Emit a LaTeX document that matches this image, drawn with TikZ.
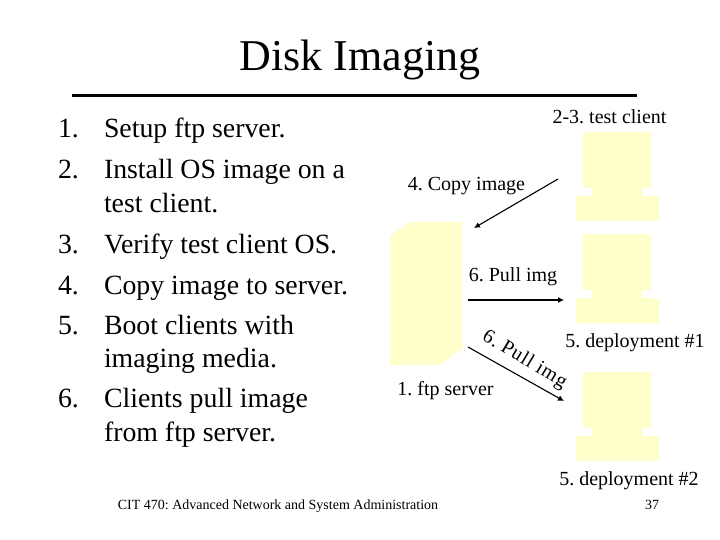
\documentclass[tikz,border=0pt]{standalone}
\usepackage{fontspec}
\setmainfont{Liberation Serif}
\usetikzlibrary{arrows.meta}
\definecolor{boxy}{RGB}{255,255,204}
\tikzset{
  every node/.style={inner sep=0pt,outer sep=0pt},
  lbl/.style={font=\fontsize{20}{24}\selectfont,anchor=base},
  body/.style={font=\fontsize{27.8}{32}\selectfont,anchor=base west},
  foot/.style={font=\fontsize{14}{16}\selectfont,anchor=base},
  conn/.style={-{Latex[length=6pt,width=6pt]},line width=1.1pt,black},
  machine/.style={fill=boxy},
  pics/client/.style={code={
    \fill[machine] (7,0)--(75,0)--(75,56)--(66,56)--(66,64)--(83,64)--(83,89)--(0,89)--(0,64)--(16,64)--(16,56)--(7,56)--cycle;
  }}
}
\frenchspacing
\begin{document}
\begin{tikzpicture}[x=1pt,y=-1pt]
\useasboundingbox (0,0) rectangle (720,540);
\fill[white] (0,0) rectangle (720,540);
% title
\node[font=\fontsize{44}{50}\selectfont,anchor=base] (title) at (360,71) {Disk Imaging};
\coordinate (ruleL) at (72,96);
\coordinate (ruleR) at (637,96);
\draw[line width=3pt] (ruleL) -- (ruleR);
% list
\node[body] (n1) at (58,138) {1.};
\node[body] (t1) at (104,138) {Setup ftp server.};
\node[body] (n2) at (58,179) {2.};
\node[body] (t2) at (104,179) {Install OS image on a};
\node[body] (t2b) at (104,213) {test client.};
\node[body] (n3) at (58,253) {3.};
\node[body] (t3) at (104,253) {Verify test client OS.};
\node[body] (n4) at (58,294) {4.};
\node[body] (t4) at (104,294) {Copy image to server.};
\node[body] (n5) at (58,334) {5.};
\node[body] (t5) at (104,334) {Boot clients with};
\node[body] (t5b) at (104,367) {imaging media.};
\node[body] (n6) at (58,407) {6.};
\node[body] (t6) at (104,407) {Clients pull image};
\node[body] (t6b) at (104,441) {from ftp server.};
% machines
\pic at (576,132) {client};
\pic at (576,234) {client};
\pic at (576,372) {client};
\fill[machine] (410,222)--(462,222)--(462,349)--(440,365)--(390,365)--(390,236)--cycle;
% connectors
\coordinate (c4a) at (558,179);
\coordinate (c4b) at (474,228);
\coordinate (c6a) at (468,300);
\coordinate (c6b) at (564,300);
\coordinate (c7a) at (468,347);
\coordinate (c7b) at (564,401);
\draw[conn] (c4a) -- (c4b);
\draw[conn] (c6a) -- (c6b);
\draw[conn] (c7a) -- (c7b);
% labels
\node[lbl] (l23) at (609.5,124) {2-3. test client};
\node[lbl] (l4) at (466.5,191) {4. Copy image};
\node[lbl] (l6) at (513,281) {6. Pull img};
\node[lbl] (l51) at (635,347) {5. deployment \#1};
\node[lbl] (l52) at (629,485) {5. deployment \#2};
\node[lbl] (l1) at (445.5,395) {1. ftp server};
\node[font=\fontsize{20}{24}\selectfont\addfontfeatures{LetterSpace=4},rotate=-31] (l6b) at (524.5,360) {6. Pull img};
% footer
\node[foot] (f1) at (278,509) {CIT 470: Advanced Network and System Administration};
\node[foot] (f2) at (652,509) {37};
\end{tikzpicture}
\end{document}
